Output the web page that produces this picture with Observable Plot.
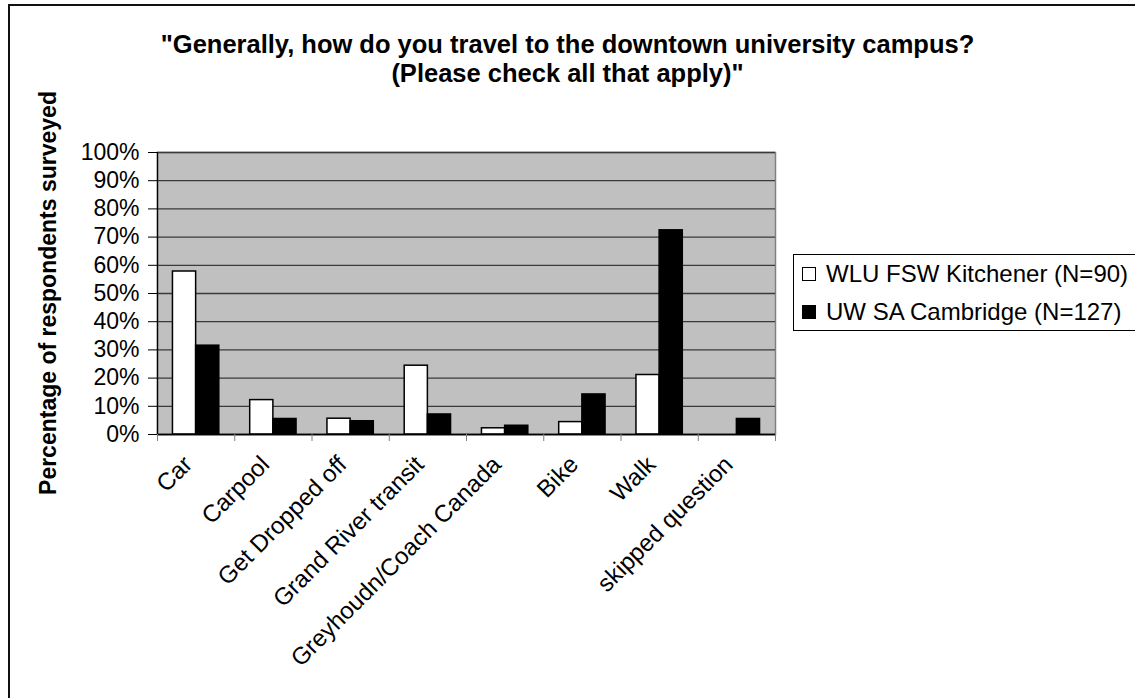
<!DOCTYPE html>
<html>
<head>
<meta charset="utf-8">
<script src="https://cdn.jsdelivr.net/npm/d3@7"></script>
<script src="https://cdn.jsdelivr.net/npm/@observablehq/plot@0.6"></script>
<style>
  html, body { margin: 0; padding: 0; background: #fff; overflow: hidden; }
  body { width: 1135px; height: 698px; position: relative; font-family: "Liberation Sans", Arial, sans-serif; }
  #frame { position: absolute; left: 8px; top: 4px; width: 1300px; height: 900px;
           border-top: 2px solid #111; border-left: 2px solid #111; }
  #chart { position: absolute; left: 0; top: 0; }
  #title { position: absolute; left: 0; width: 1135px; top: 30px; text-align: center;
           font-weight: bold; font-size: 25.5px; line-height: 29px; color: #000; }
  #ylabel { position: absolute; left: 48px; top: 293px; transform: translate(-50%, -50%) rotate(-90deg);
            white-space: nowrap; font-weight: bold; font-size: 23px; color: #000; }
  #legend { position: absolute; left: 793px; top: 254px; width: 345px; height: 75px;
            border: 1px solid #000; border-right: none; background: #fff; }
  .item { position: absolute; left: 8px; font-size: 24px; line-height: 28px; color: #000; white-space: nowrap;
          display: flex; align-items: center; }
  .sw { width: 14px; height: 14px; border: 1px solid #000; margin-right: 10px; box-sizing: border-box; }
</style>
</head>
<body>
<div id="frame"></div>
<div id="chart"></div>
<div id="title">"Generally, how do you travel to the downtown university campus?<br>(Please check all that apply)"</div>
<div id="ylabel">Percentage of respondents surveyed</div>
<div id="legend"></div>
<script>
// Survey answers: share of respondents choosing each mode of travel
const categories = ["Car", "Carpool", "Get Dropped off", "Grand River transit",
  "Greyhoudn/Coach Canada", "Bike", "Walk", "skipped question"];
const seriesNames = ["WLU FSW Kitchener (N=90)", "UW SA Cambridge (N=127)"];
const wluValues = [0.578, 0.122, 0.056, 0.244, 0.022, 0.044, 0.211, 0.0];
const uwValues  = [0.315, 0.055, 0.047, 0.071, 0.031, 0.142, 0.724, 0.055];
const yTicks = [0, 0.1, 0.2, 0.3, 0.4, 0.5, 0.6, 0.7, 0.8, 0.9, 1.0];
const seriesFills = ["#ffffff", "#000000"];

const rows = categories.flatMap((cat, i) => [
  {cat, i, s: 0, series: seriesNames[0], value: wluValues[i]},
  {cat, i, s: 1, series: seriesNames[1], value: uwValues[i]}
]).filter(d => d.value > 0);

const font = "'Liberation Sans', Arial, sans-serif";

const chart = Plot.plot({
  width: 1135,
  height: 698,
  marginLeft: 157,
  marginRight: 360,
  marginTop: 152,
  marginBottom: 264,
  style: {fontFamily: font, fontSize: "23px", color: "#000", background: "transparent", overflow: "visible"},
  x: {type: "linear", domain: [0, categories.length], axis: null},
  y: {domain: [0, 1], axis: null},
  color: {domain: seriesNames, range: seriesFills},
  marks: [
    Plot.frame({fill: "#c0c0c0", stroke: "#808080", strokeWidth: 1.5}),
    Plot.gridY(yTicks, {stroke: "#3a3a3a", strokeOpacity: 1, strokeWidth: 1.3}),
    // paired bars inside each category slot
    Plot.rectY(rows, {
      x1: d => d.i + (d.s === 0 ? 0.2 : 0.5),
      x2: d => d.i + (d.s === 0 ? 0.5 : 0.8),
      y1: 0,
      y2: "value",
      fill: "series",
      stroke: "#000",
      strokeWidth: 1.5
    }),
    Plot.ruleX([0], {stroke: "#000", strokeWidth: 1.3}),
    Plot.ruleY([0], {stroke: "#000", strokeWidth: 1.5}),
    Plot.axisY({
      ticks: yTicks,
      tickFormat: d3.format(".0%"),
      tickSize: 9,
      tickPadding: 9,
      stroke: "#000",
      label: null,
      fontSize: 23
    }),
    // category boundary ticks
    Plot.axisX({
      ticks: d3.range(0, categories.length + 1),
      tickFormat: () => "",
      tickSize: 7,
      stroke: "#808080",
      label: null
    }),
    // category names under the slot centres
    Plot.axisX({
      ticks: categories.map((c, i) => i + 0.5),
      tickFormat: v => categories[Math.floor(v)],
      tickSize: 0,
      tickPadding: 12,
      tickRotate: -45,
      dx: -8,
      dy: 14,
      label: null,
      fontSize: 24
    })
  ]
});
document.getElementById("chart").append(chart);

// legend
const legend = document.getElementById("legend");
seriesNames.forEach((name, k) => {
  const item = document.createElement("div");
  item.className = "item";
  item.style.top = (k === 0 ? 5 : 43) + "px";
  const sw = document.createElement("div");
  sw.className = "sw";
  sw.style.background = seriesFills[k];
  item.append(sw, document.createTextNode(name));
  legend.append(item);
});
</script>
</body>
</html>
